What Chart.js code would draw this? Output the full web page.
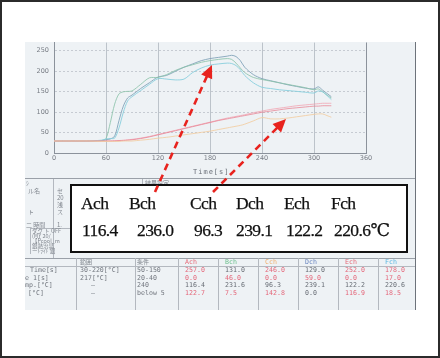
<!DOCTYPE html>
<html><head><meta charset="utf-8">
<script src="https://cdn.jsdelivr.net/npm/chart.js@4.4.1/dist/chart.umd.min.js"></script>
<style>
html,body{margin:0;padding:0;background:#fff;}
#wrap{position:relative;width:440px;height:358px;overflow:hidden;background:#fff;}
.abs{position:absolute;}
#frame{left:0;top:0;width:440px;height:358px;box-sizing:border-box;border:2px solid #2b2b2b;z-index:20;pointer-events:none;}
#paper{left:25px;top:42px;width:390px;height:268px;background:#eef2f5;}
#cv{left:0;top:0;z-index:2;}
.t{position:absolute;white-space:nowrap;font-family:"DejaVu Sans Mono",monospace;font-size:6.6px;color:#72777f;line-height:1;z-index:3;}
.j{position:absolute;white-space:nowrap;font-family:"Noto Sans CJK JP",sans-serif;font-size:6px;color:#80868e;line-height:1;z-index:3;}
.hl{position:absolute;height:1px;background:#a9aeb6;z-index:3;}
.vl{position:absolute;width:1px;background:#b3b8bf;z-index:3;}
#box{left:70px;top:184px;width:338px;height:69px;box-sizing:border-box;border:2px solid #111;background:#fff;z-index:5;}
.b{position:absolute;white-space:nowrap;font-family:"Liberation Serif","DejaVu Serif",serif;font-size:17.5px;color:#111;line-height:1;z-index:6;letter-spacing:-0.6px;-webkit-text-stroke:0.25px #111;}
#arrows{left:0;top:0;z-index:10;}
</style></head>
<body><div id="wrap">
<div id="paper" class="abs"></div>
<canvas id="cv" class="abs" width="440" height="358"></canvas>
<div class="t" style="left:193px;top:169px;font-size:7px;letter-spacing:1px;color:#6a6f78">Time[s]</div>
<div id="table"></div>
<div id="box" class="abs"></div>
<div id="boxtext"></div>
<svg id="arrows" class="abs" width="440" height="358"></svg>
<div id="frame" class="abs"></div>
</div>
<script>
// ---- data ----
const times = [0,20,40,55,60,65,70,75,80,85,90,100,110,120,130,140,150,160,170,180,190,200,205,210,215,220,230,240,250,260,270,280,290,300,305,310,315,320];
const achValues = [30,30,30,30,30,30,30,31,31,32,33,36,40,45,50,55,60,65,70,75,80,84,86,88,90,92,96,100,103,106,109,111,113,115,115,116,116,116];
const bchValues = [30,30,30,31,36,75,120,145,150,151,152,168,184,185,192,202,210,216,222,226,229,231,229,220,208,197,185,180,176,172,168,164,160,155,157,150,142,135];
const cchValues = [30,30,30,29,29,29,29,29,30,30,30,32,34,37,39,42,45,48,51,54,58,62,64,66,68,71,79,87,84,84,86,89,92,95,96,96,92,88];
const dchValues = [30,30,30,31,33,35,42,80,115,135,142,158,172,186,190,200,210,218,226,231,234,237,239,236,226,210,192,182,177,172,167,163,159,157,162,154,146,138];
const echValues = [30,30,30,30,30,30,31,31,32,33,34,37,41,46,51,56,61,66,71,76,81,86,88,90,92,94,99,103,107,110,113,116,118,120,121,122,122,122];
const fchValues = [30,30,30,32,35,36,37,62,100,128,138,153,168,182,181,179,181,197,208,215,218,220,219,214,204,190,172,161,158,155,153,151,149,147,152,150,141,131];
const xTicks = [0,60,120,180,240,300,360];
const yTicks = [0,50,100,150,200,250];

const channelNames = ["Ach","Bch","Cch","Dch","Ech","Fch"];
const boxValues = ["116.4","236.0","96.3","239.1","122.2","220.6℃"];
const tableHead = ["範囲","条件","Ach","Bch","Cch","Dch","Ech","Fch"];
const rowLabels = ["Time[s]","e 1[s]","mp.[°C]","[°C]"];
const rangeCol = ["30-220[°C]","217[°C]","—","—"];
const condCol = ["50-150","20-40","240","below 5"];
const tableVals = [
  ["257.0","0.0","116.4","122.7"],
  ["131.0","46.0","231.6","7.5"],
  ["246.0","0.0","96.3","142.8"],
  ["129.0","59.0","239.1","0.0"],
  ["252.0","0.0","122.2","116.9"],
  ["178.0","17.0","220.6","18.5"]
];
const tableRed = [
  [1,1,0,1],[0,1,0,1],[1,1,0,1],[0,1,0,0],[1,1,0,1],[1,1,0,1]
];

// ---- chart ----
const mk = (vals,color)=>({data:times.map((t,i)=>({x:t,y:vals[i]})),borderColor:color,borderWidth:1,pointRadius:0,tension:0.3,fill:false});
new Chart(document.getElementById('cv'),{
  type:'line',
  data:{datasets:[
    mk(cchValues,'rgba(242,205,160,0.85)'),
    mk(achValues,'rgba(232,130,145,0.75)'),
    mk(echValues,'rgba(242,160,175,0.75)'),
    mk(fchValues,'rgba(130,205,220,0.85)'),
    mk(bchValues,'rgba(140,195,170,0.85)'),
    mk(dchValues,'rgba(125,160,182,0.85)')
  ]},
  options:{
    responsive:false,animation:false,
    layout:{padding:{left:25,right:74,top:42.6,bottom:184.7}},
    plugins:{legend:{display:false},tooltip:{enabled:false}},
    scales:{
      x:{type:'linear',min:0,max:360,
        afterBuildTicks:s=>{s.ticks=xTicks.map(v=>({value:v}));},
        afterFit:s=>{s.height=20;},
        grid:{color:'#bcc3ca',lineWidth:1,drawTicks:false},
        border:{color:'#8b929b',width:1},
        ticks:{padding:1.5,color:'#777c84',font:{family:'DejaVu Sans',size:6.5},maxRotation:0}
      },
      y:{min:0,max:270,
        afterBuildTicks:s=>{s.ticks=yTicks.map(v=>({value:v}));},
        afterFit:s=>{s.width=29;},
        grid:{color:'#c6cbd2',lineWidth:1,drawTicks:false},
        border:{color:'#8b929b',width:1,dash:[2,2]},
        ticks:{padding:5,color:'#777c84',font:{family:'DejaVu Sans',size:6.5}}
      }
    }
  },
  plugins:[{id:'rightBorder',afterDraw(c){const a=c.chartArea,ctx=c.ctx;ctx.save();ctx.strokeStyle='#8b929b';ctx.lineWidth=1;ctx.beginPath();ctx.moveTo(Math.round(a.right)+0.5,a.top);ctx.lineTo(Math.round(a.right)+0.5,a.bottom);ctx.stroke();ctx.restore();}}]
});

// ---- table (background printout) ----
const tb=document.getElementById('table');
function add(cls,style,text){const d=document.createElement('div');d.className=cls;d.setAttribute('style',style);if(text!==undefined)d.textContent=text;tb.appendChild(d);return d;}
add('hl','left:25px;top:178px;width:390px;background:#9aa0a8');
add('hl','left:25px;top:258px;width:390px;background:#9aa0a8');
add('hl','left:25px;top:266px;width:390px;background:#b3b8bf');
add('vl','left:415px;top:42px;height:268px;background:#6d737b');
add('vl','left:53px;top:179px;height:79px');
add('vl','left:142px;top:179px;height:8px');
const colX=[76,135,178,218,258,298,338,378];
colX.forEach(x=>add('vl','left:'+x+'px;top:258px;height:52px'));
add('j','left:26px;top:180px','ｼ');
add('j','left:28px;top:188px','ル名');
add('j','left:57px;top:188px','セ');
add('j','left:57px;top:195px','20');
add('j','left:57px;top:202px','浅');
add('j','left:28px;top:209px','ト');
add('j','left:57px;top:209px','ス');
add('j','left:26px;top:222px','二 時間');
add('j','left:57px;top:222px','1.');
add('hl','left:30px;top:228px;width:40px;background:#b3b8bf');
add('vl','left:30px;top:228px;height:26px');
add('j','left:32px;top:229px;font-size:5.5px','ダク ト OFF');
add('j','left:32px;top:234px;font-size:5.5px','(MY  20/');
add('j','left:32px;top:239px;font-size:5.5px','【Pcool_m');
add('j','left:32px;top:244px;font-size:5.5px','銀熱治具');
add('j','left:32px;top:249px;font-size:5.5px','ーﾄﾗｲﾄ 銀');
add('j','left:145px;top:180px','結果設定');
const hx=[80,137,185,225,265,305,345,385];
const hc=['#80868e','#80868e','#e66a78','#6cc08e','#f0b070','#6a86c0','#e66a78','#5cb8e2'];
tableHead.forEach((h,i)=>add(i<2?'j':'t','left:'+hx[i]+'px;top:259px;color:'+hc[i],h));
const rowY=[267,274.5,282,289.5];
const rlx=[30,25,25,28];
rowLabels.forEach((r,i)=>add('t','left:'+rlx[i]+'px;top:'+rowY[i]+'px',r));
rangeCol.forEach((r,i)=>add('t','left:'+(r==='—'?91:80)+'px;top:'+rowY[i]+'px',r));
condCol.forEach((r,i)=>add('t','left:137px;top:'+rowY[i]+'px',r));
tableVals.forEach((col,ci)=>col.forEach((v,ri)=>add('t','left:'+hx[ci+2]+'px;top:'+rowY[ri]+'px;color:'+(tableRed[ci][ri]?'#e4677a':'#686d75'),v)));

// ---- highlighted box ----
const bt=document.getElementById('boxtext');
const nameX=[81,129,190,236,284,331];
const valX=[82,137,194,236,286,334];
channelNames.forEach((n,i)=>{const d=document.createElement('div');d.className='b';d.style.left=nameX[i]+'px';d.style.top='195px';d.textContent=n;bt.appendChild(d);});
boxValues.forEach((n,i)=>{const d=document.createElement('div');d.className='b';d.style.left=valX[i]+'px';d.style.top='222px';d.textContent=n;bt.appendChild(d);});

// ---- annotation arrows ----
const svg=document.getElementById('arrows');
function arrow(x1,y1,x2,y2){
  const dx=x2-x1,dy=y2-y1,L=Math.hypot(dx,dy),ux=dx/L,uy=dy/L,hl=13,hw=6;
  const bx=x2-ux*hl,by=y2-uy*hl;
  const ns='http://www.w3.org/2000/svg';
  const ln=document.createElementNS(ns,'line');
  ln.setAttribute('x1',x1);ln.setAttribute('y1',y1);ln.setAttribute('x2',bx+ux*2);ln.setAttribute('y2',by+uy*2);
  ln.setAttribute('stroke','#e8231e');ln.setAttribute('stroke-width','2.6');ln.setAttribute('stroke-dasharray','7 5');
  svg.appendChild(ln);
  const p=document.createElementNS(ns,'polygon');
  p.setAttribute('points',x2+','+y2+' '+(bx-uy*hw)+','+(by+ux*hw)+' '+(bx+uy*hw)+','+(by-ux*hw));
  p.setAttribute('fill','#e8231e');
  svg.appendChild(p);
}
arrow(155,192,212,65);
arrow(213,192,286,119);
</script>
</body></html>
